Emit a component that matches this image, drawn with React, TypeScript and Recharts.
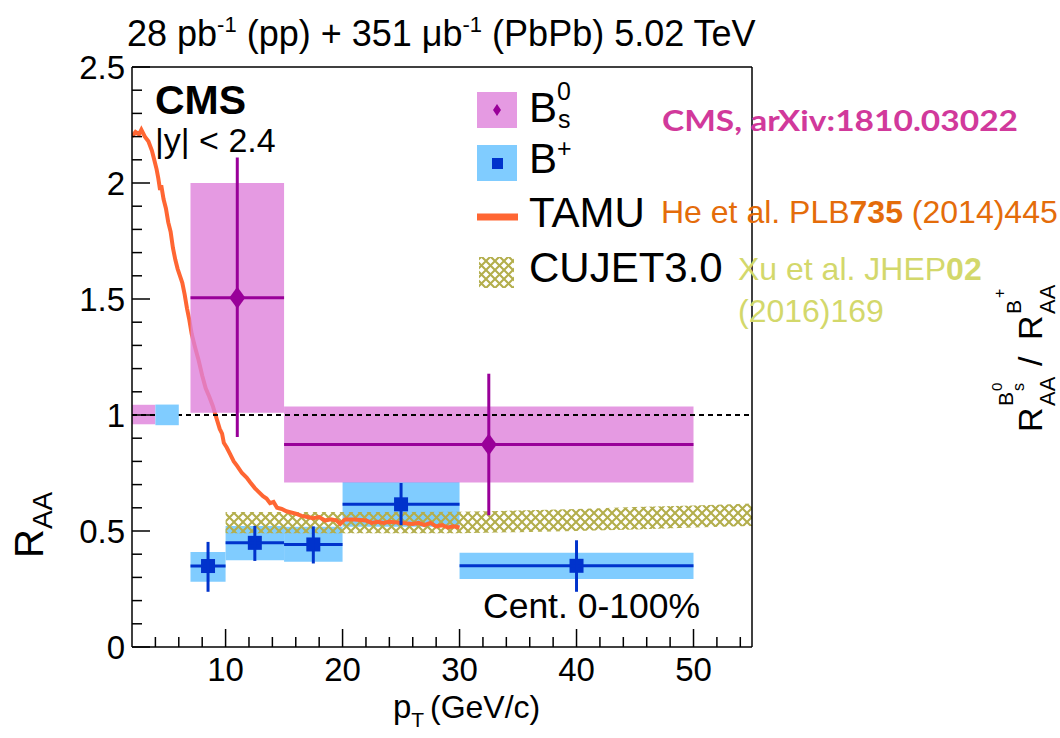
import React from 'react';
import {
  ComposedChart,
  XAxis,
  YAxis,
  Line,
  Area,
  Scatter,
  ErrorBar,
  ReferenceArea,
  ReferenceLine,
} from 'recharts';

const FONT = '"Liberation Sans", Arial, Helvetica, sans-serif';

// ---------- B_s^0 measurement ----------
const bsPt = [11, 32.5];
const bsPtLow = [7, 15];
const bsPtHigh = [15, 50];
const bsRaa = [1.505, 0.873];
const bsStatLow = [0.905, 0.568];
const bsStatHigh = [2.11, 1.178];
const bsSystLow = [1.01, 0.709];
const bsSystHigh = [2.0, 1.037];

// ---------- B+ measurement ----------
const bpPt = [8.5, 12.5, 17.5, 25, 40];
const bpPtLow = [7, 10, 15, 20, 30];
const bpPtHigh = [10, 15, 20, 30, 50];
const bpRaa = [0.349, 0.449, 0.442, 0.615, 0.35];
const bpStatLow = [0.238, 0.371, 0.36, 0.525, 0.238];
const bpStatHigh = [0.453, 0.522, 0.52, 0.707, 0.46];
const bpSystLow = [0.281, 0.374, 0.367, 0.518, 0.293];
const bpSystHigh = [0.41, 0.522, 0.518, 0.711, 0.406];

// ---------- global normalisation boxes (Bs, B+) ----------
const normPtLow = [2, 4];
const normPtHigh = [4, 6];
const normLow = [0.96, 0.956];
const normHigh = [1.044, 1.045];

// ---------- TAMU curve ----------
const tamuPt = [
  2.0, 2.3, 2.6, 2.8, 3.1, 3.4, 3.7, 3.9, 4.1, 4.25, 4.4, 4.5, 4.7, 4.9, 5.1, 5.3, 5.5, 5.7, 5.9,
  6.1, 6.3, 6.5, 6.7, 6.9, 7.1, 7.4, 7.7, 8.0, 8.3, 8.6, 8.9, 9.2, 9.5, 9.7, 9.85, 10.1, 10.4,
  10.7, 11.0, 11.4, 11.8, 12.1, 12.5, 12.8, 13.2, 13.5, 13.8, 14.1, 14.4, 14.8, 15.2, 15.6, 16.0,
  16.5, 17.0, 17.5, 18.0, 18.5, 19.0, 19.5, 19.8, 20.2, 21.0, 22.0, 22.5, 23.0, 23.5, 24.0, 25.0,
  26.0, 26.5, 27.0, 27.5, 28.0, 28.5, 29.0, 29.5, 30.0,
];
const tamuRaa = [
  2.2, 2.22, 2.21, 2.23, 2.2, 2.18, 2.14, 2.1, 2.06, 2.02, 1.97, 1.99, 1.93, 1.89, 1.83, 1.79, 1.72,
  1.67, 1.63, 1.6, 1.57, 1.52, 1.46, 1.41, 1.35, 1.29, 1.235, 1.17, 1.115, 1.08, 1.04, 0.99, 0.94,
  0.92, 0.88, 0.86, 0.83, 0.8, 0.78, 0.75, 0.73, 0.71, 0.685, 0.67, 0.65, 0.64, 0.62, 0.625, 0.6,
  0.595, 0.585, 0.58, 0.575, 0.565, 0.56, 0.555, 0.56, 0.545, 0.55, 0.545, 0.53, 0.55, 0.55, 0.545,
  0.535, 0.54, 0.535, 0.54, 0.535, 0.53, 0.535, 0.525, 0.535, 0.52, 0.525, 0.515, 0.52, 0.515,
];

// ---------- CUJET3.0 band ----------
const cujetPt = [10, 15, 20, 25, 30, 35, 40, 45, 50, 55];
const cujetLow = [0.49, 0.49, 0.49, 0.49, 0.49, 0.495, 0.5, 0.507, 0.515, 0.522];
const cujetHigh = [0.582, 0.582, 0.582, 0.582, 0.583, 0.588, 0.595, 0.603, 0.61, 0.618];

// ---------- axis ticks ----------
const xTicks = [4, 6, 8, 10, 12, 14, 16, 18, 20, 22, 24, 26, 28, 30, 32, 34, 36, 38, 40, 42, 44, 46, 48, 50, 52, 54];
const xMajor = [10, 20, 30, 40, 50];
const yTicks = [0, 0.1, 0.2, 0.3, 0.4, 0.5, 0.6, 0.7, 0.8, 0.9, 1, 1.1, 1.2, 1.3, 1.4, 1.5, 1.6, 1.7, 1.8, 1.9, 2, 2.1, 2.2, 2.3, 2.4, 2.5];
const yMajor = [0, 0.5, 1, 1.5, 2, 2.5];

// ---------- colours ----------
const BS_BOX = '#de81db';
const BS_LINE = '#990099';
const BP_BOX = '#80ccff';
const BP_LINE = '#0033cc';
const TAMU = '#ff6633';
const HATCH = '#b3ae4c';

const bsPoints = bsPt.map((x, i) => ({
  x,
  y: bsRaa[i],
  ex: [x - bsPtLow[i], bsPtHigh[i] - x],
  ey: [bsRaa[i] - bsStatLow[i], bsStatHigh[i] - bsRaa[i]],
}));
const bpPoints = bpPt.map((x, i) => ({
  x,
  y: bpRaa[i],
  ex: [x - bpPtLow[i], bpPtHigh[i] - x],
  ey: [bpRaa[i] - bpStatLow[i], bpStatHigh[i] - bpRaa[i]],
}));
const tamuData = tamuPt.map((x, i) => ({ x, y: tamuRaa[i] }));
const cujetData = cujetPt.map((x, i) => ({ x, range: [cujetLow[i], cujetHigh[i]] }));

const isMajorY = (v: number) => yMajor.some((m) => Math.abs(m - v) < 1e-6);

const XTick = (props: any) => {
  const { x, y, payload } = props;
  const v = payload.value as number;
  const major = xMajor.includes(v);
  return (
    <g>
      <line x1={x} x2={x} y1={y} y2={y - (major ? 18 : 10)} stroke="#000" strokeWidth={1.5} />
      {major && (
        <text x={x} y={y + 34} textAnchor="middle" fontSize={33} fontFamily={FONT} fill="#000">
          {v}
        </text>
      )}
    </g>
  );
};

const YTick = (props: any) => {
  const { x, y, payload } = props;
  const v = payload.value as number;
  const major = isMajorY(v);
  return (
    <g>
      <line x1={x} x2={x + (major ? 18 : 10)} y1={y} y2={y} stroke="#000" strokeWidth={1.5} />
      {major && (
        <text x={x - 7} y={y} dy="0.36em" textAnchor="end" fontSize={33} fontFamily={FONT} fill="#000">
          {String(Math.round(v * 10) / 10)}
        </text>
      )}
    </g>
  );
};

const Diamond = (p: any) => (
  <path
    d={`M${p.cx},${p.cy - 11} L${p.cx + 8},${p.cy} L${p.cx},${p.cy + 11} L${p.cx - 8},${p.cy} Z`}
    fill={BS_LINE}
  />
);
const Square = (p: any) => <rect x={p.cx - 7} y={p.cy - 7} width={14} height={14} fill={BP_LINE} />;

export default function App() {
  return (
    <div style={{ position: 'absolute', left: 0, top: 0, width: 1060, height: 738, background: '#fff' }}>
      <svg width={0} height={0} style={{ position: 'absolute' }}>
        <defs>
          <pattern id="cujetHatch" patternUnits="userSpaceOnUse" width={9} height={9}>
            <path d="M0,0 L9,9 M9,0 L0,9" stroke={HATCH} strokeWidth={2.1} />
          </pattern>
        </defs>
      </svg>
      <ComposedChart
        width={1060}
        height={738}
        margin={{ top: 67, right: 308, bottom: 51, left: 72 }}
      >
        <XAxis
          type="number"
          dataKey="x"
          domain={[2, 55]}
          allowDataOverflow
          ticks={xTicks}
          interval={0}
          tick={XTick}
          tickLine={false}
          tickSize={0}
          tickMargin={0}
          height={40}
          axisLine={{ stroke: '#000', strokeWidth: 1.5 }}
        />
        <YAxis
          type="number"
          domain={[0, 2.5]}
          allowDataOverflow
          ticks={yTicks}
          interval={0}
          tick={YTick}
          tickLine={false}
          tickSize={0}
          tickMargin={0}
          width={60}
          axisLine={{ stroke: '#000', strokeWidth: 1.5 }}
        />
        {/* B+ systematic boxes */}
        {bpPt.map((_, i) => (
          <ReferenceArea
            key={`bpbox${i}`}
            x1={bpPtLow[i]}
            x2={bpPtHigh[i]}
            y1={bpSystLow[i]}
            y2={bpSystHigh[i]}
            fill={BP_BOX}
            fillOpacity={1}
            stroke="none"
            zIndex={100}
          />
        ))}
        {/* CUJET band */}
        <Area
          data={cujetData}
          dataKey="range"
          type="linear"
          fill="url(#cujetHatch)"
          fillOpacity={1}
          stroke="none"
          dot={false}
          activeDot={false}
          isAnimationActive={false}
          zIndex={110}
        />
        {/* TAMU curve */}
        <Line
          data={tamuData}
          dataKey="y"
          type="linear"
          stroke={TAMU}
          strokeWidth={4}
          dot={false}
          activeDot={false}
          isAnimationActive={false}
          zIndex={120}
        />
        {/* Bs systematic boxes */}
        {bsPt.map((_, i) => (
          <ReferenceArea
            key={`bsbox${i}`}
            x1={bsPtLow[i]}
            x2={bsPtHigh[i]}
            y1={bsSystLow[i]}
            y2={bsSystHigh[i]}
            fill={BS_BOX}
            fillOpacity={0.8}
            stroke="none"
            zIndex={130}
          />
        ))}
        <ReferenceArea
          x1={normPtLow[0]}
          x2={normPtHigh[0]}
          y1={normLow[0]}
          y2={normHigh[0]}
          fill={BS_BOX}
          fillOpacity={0.8}
          stroke="none"
          zIndex={130}
        />
        <ReferenceLine y={1} stroke="#000" strokeWidth={2} strokeDasharray="5 4" zIndex={140} />
        <ReferenceArea
          x1={normPtLow[1]}
          x2={normPtHigh[1]}
          y1={normLow[1]}
          y2={normHigh[1]}
          fill={BP_BOX}
          fillOpacity={1}
          stroke="none"
          zIndex={150}
        />
        {/* frame top/right */}
        <ReferenceLine y={2.5} stroke="#000" strokeWidth={1.5} zIndex={160} />
        <ReferenceLine x={55} stroke="#000" strokeWidth={1.5} zIndex={160} />
        {/* data points */}
        <Scatter data={bsPoints} dataKey="y" shape={Diamond} isAnimationActive={false} zIndex={200}>
          <ErrorBar dataKey="ex" direction="x" width={0} stroke={BS_LINE} strokeWidth={3} />
          <ErrorBar dataKey="ey" direction="y" width={0} stroke={BS_LINE} strokeWidth={3} />
        </Scatter>
        <Scatter data={bpPoints} dataKey="y" shape={Square} isAnimationActive={false} zIndex={210}>
          <ErrorBar dataKey="ex" direction="x" width={0} stroke={BP_LINE} strokeWidth={3} />
          <ErrorBar dataKey="ey" direction="y" width={0} stroke={BP_LINE} strokeWidth={3} />
        </Scatter>
      </ComposedChart>

      <svg
        width={1060}
        height={738}
        style={{ position: 'absolute', left: 0, top: 0, pointerEvents: 'none' }}
        fontFamily={FONT}
      >
        {/* title */}
        <text x={127} y={46} fontSize={36} fill="#000">
          28 pb<tspan dy={-14} fontSize={22}>-1</tspan>
          <tspan dy={14}> (pp) + 351 μb</tspan>
          <tspan dy={-14} fontSize={22}>-1</tspan>
          <tspan dy={14}> (PbPb) 5.02 TeV</tspan>
        </text>

        {/* CMS label */}
        <text x={155} y={114} fontSize={41} fontWeight="bold" fill="#000">CMS</text>
        <text x={155} y={152} fontSize={34} fill="#000">|y| &lt; 2.4</text>
        <text x={483} y={618} fontSize={35.5} fill="#000">Cent. 0-100%</text>

        {/* axis titles */}
        <text x={393} y={718} fontSize={33} fill="#000">
          p<tspan dy={9} fontSize={21}>T</tspan>
        </text>
        <text x={430} y={718} fontSize={32} fill="#000">(GeV/c)</text>
        <g transform="translate(43,558) rotate(-90)">
          <text x={0} y={0} fontSize={40} fill="#000">
            R<tspan dy={9} fontSize={28}>AA</tspan>
          </text>
        </g>
        <g transform="translate(1042,432) rotate(-90)">
          <text fontSize={34} fill="#000">
            <tspan x={0} y={0}>R</tspan>
            <tspan x={26} y={13} fontSize={22}>AA</tspan>
            <tspan x={26} y={-29} fontSize={21}>B</tspan>
            <tspan x={41} y={-18} fontSize={16}>s</tspan>
            <tspan x={41} y={-40} fontSize={15}>0</tspan>
            <tspan x={66} y={0}>/</tspan>
            <tspan x={92} y={0}>R</tspan>
            <tspan x={118} y={13} fontSize={22}>AA</tspan>
            <tspan x={118} y={-21} fontSize={21}>B</tspan>
            <tspan x={134} y={-37} fontSize={16}>+</tspan>
          </text>
        </g>

        {/* legend */}
        <rect x={477} y={92} width={40} height={36} fill="#e59ae2" />
        <path d="M497,104 L501,110 L497,116 L493,110 Z" fill={BS_LINE} />
        <text x={529} y={122} fontSize={42} fill="#000">B</text>
        <text x={557} y={100} fontSize={25} fill="#000">0</text>
        <text x={558} y={128} fontSize={25} fill="#000">s</text>

        <rect x={477} y={145} width={40} height={36} fill={BP_BOX} />
        <rect x={492} y={158} width={11} height={11} fill={BP_LINE} />
        <text x={529} y={173} fontSize={42} fill="#000">B</text>
        <text x={557} y={157} fontSize={25} fill="#000">+</text>

        <line x1={477} x2={518} y1={217} y2={217} stroke={TAMU} strokeWidth={7} />
        <text x={529} y={227} fontSize={42} fill="#000">TAMU</text>

        <rect x={479} y={257} width={35} height={31} fill="url(#cujetHatch)" />
        <text x={529} y={282} fontSize={42} fill="#000">CUJET3.0</text>

        {/* references */}
        <text
          x={662}
          y={131}
          fontSize={29}
          fontWeight="bold"
          fontFamily='Lato, "Open Sans", sans-serif'
          fill="#d1399b"
          textLength={356}
          lengthAdjust="spacingAndGlyphs"
        >
          CMS, arXiv:1810.03022
        </text>
        <text x={661} y={223} fontSize={32} fill="#e46c0a">
          He et al. PLB<tspan fontWeight="bold">735</tspan> (2014)445
        </text>
        <text x={738} y={280} fontSize={32} fill="#d3d86b">
          Xu et al. JHEP<tspan fontWeight="bold">02</tspan>
        </text>
        <text x={738} y={322} fontSize={32} fill="#d3d86b">(2016)169</text>
      </svg>
    </div>
  );
}
